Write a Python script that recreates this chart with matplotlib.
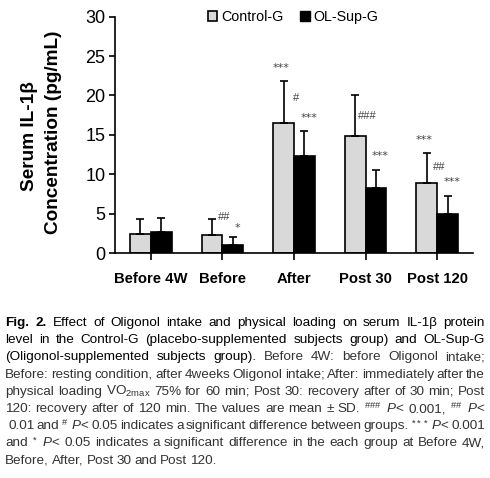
import matplotlib
matplotlib.use("Agg")
import matplotlib.pyplot as plt
import numpy as np
from matplotlib.patches import Patch

plt.rcParams['font.family'] = ['Liberation Sans', 'DejaVu Sans']
plt.rcParams['mathtext.fontset'] = 'custom'
plt.rcParams['mathtext.rm'] = 'Liberation Sans'
plt.rcParams['mathtext.it'] = 'Liberation Sans:italic'
plt.rcParams['mathtext.bf'] = 'Liberation Sans:bold'

# ---------------- data ----------------
categories = ["Before 4W", "Before", "After", "Post 30", "Post 120"]
control_mean = [2.35, 2.25, 16.45, 14.9, 8.85]
control_sd = [2.0, 2.05, 5.45, 5.15, 3.85]
olsup_mean = [2.65, 1.05, 12.3, 8.25, 5.0]
olsup_sd = [1.85, 1.0, 3.15, 2.35, 2.3]
control_stars = ["", "", "***", "", "***"]
olsup_stars = ["", "*", "***", "***", "***"]
between_marks = ["", "##", "#", "###", "##"]
between_y = [0, 4.6, 19.7, 17.4, 10.9]
yticks = [0, 5, 10, 15, 20, 25, 30]

caption_lines = [
    "**Fig. **2. Effect of Oligonol intake and physical loading on serum IL-1β protein",
    "level in the Control-G (placebo-supplemented subjects group) and OL-Sup-G",
    "(Oligonol-supplemented subjects group). Before 4W: before Oligonol intake;",
    "Before: resting condition, after 4weeks Oligonol intake; After: immediately after the",
    r"physical loading VO$_{2\mathrm{max}}$ 75% for 60 min; Post 30: recovery after of 30 min; Post",
    r"120: recovery after of 120 min. The values are mean ± SD. $^{\#\#\#}$ $P$< 0.001, $^{\#\#}$ $P$<",
    r"0.01 and $^{\#}$ $P$< 0.05 indicates a significant difference between groups. $^{***}$ $P$< 0.001",
    r"and $^{*}$ $P$< 0.05 indicates a significant difference in the each group at Before 4W,",
    "Before, After, Post 30 and Post 120.",
]
caption_title_words = 13 + 9 + 3  # words of the caption title (darker)

W, H = 490, 478
fig = plt.figure(figsize=(W / 100, H / 100), dpi=100)
ax = fig.add_axes([115 / W, 1 - 253 / H, (473 - 115) / W, (253 - 16.7) / H])

x = np.arange(len(categories))
bw = 0.29
ax.bar(x - bw / 2, control_mean, bw, color="#d9d9d9", edgecolor="black", linewidth=1.2, zorder=2)
ax.bar(x + bw / 2, olsup_mean, bw, color="black", edgecolor="black", linewidth=1.2, zorder=2)
ax.errorbar(x - bw / 2, control_mean, yerr=[np.zeros(len(x)), control_sd], fmt="none",
            ecolor="black", elinewidth=1.2, capsize=3, capthick=1.2, zorder=3)
ax.errorbar(x + bw / 2, olsup_mean, yerr=[np.zeros(len(x)), olsup_sd], fmt="none",
            ecolor="black", elinewidth=1.2, capsize=3, capthick=1.2, zorder=3)

star_kw = dict(ha="center", va="center", fontsize=8, color="#444444", family="DejaVu Sans")
for i in range(len(x)):
    if control_stars[i]:
        ax.text(x[i] - bw / 2 - 0.04, control_mean[i] + control_sd[i] + 1.6, control_stars[i], **star_kw)
    if olsup_stars[i]:
        off = 1.7 if len(olsup_stars[i]) > 1 else 1.1
        ax.text(x[i] + bw / 2 + 0.06, olsup_mean[i] + olsup_sd[i] + off, olsup_stars[i], **star_kw)
    if between_marks[i]:
        ax.text(x[i] + 0.03, between_y[i], between_marks[i], ha="center", va="center",
                fontsize=8, color="#444444")

ax.set_xlim(-0.5, 4.5)
ax.set_ylim(0, 30)
ax.set_yticks(yticks)
ax.set_xticks(x)
ax.set_xticklabels(categories, fontsize=10.7, fontweight="bold")
ax.tick_params(axis="y", labelsize=13, length=4, width=1.2, direction="out", pad=3)
ax.tick_params(axis="x", length=5, width=1.2, direction="out", pad=9)
for s in ["top", "right"]:
    ax.spines[s].set_visible(False)
for s in ["left", "bottom"]:
    ax.spines[s].set_linewidth(1.2)

handles = [Patch(facecolor="#d9d9d9", edgecolor="black", linewidth=1.2),
           Patch(facecolor="black", edgecolor="black")]
leg = fig.legend(handles, ["Control-G", "OL-Sup-G"], loc="center left",
                 bbox_to_anchor=(208 / W, 1 - 17 / H), ncol=2, frameon=False,
                 fontsize=10.3, handlelength=0.65, handleheight=0.65, handletextpad=0.25,
                 columnspacing=1.2, borderaxespad=0, borderpad=0)

fig.text(29 / W, 1 - 136 / H, "Serum IL-1β", rotation=90, ha="center", va="center",
         fontsize=13.7, fontweight="bold")
fig.text(53 / W, 1 - 132 / H, "Concentration (pg/mL)", rotation=90, ha="center", va="center",
         fontsize=13.7, fontweight="bold")

# ---------------- justified caption ----------------
fig.canvas.draw()
renderer = fig.canvas.get_renderer()
left_px, right_px = 5, 485
y0, dy = 326, 17.2
count = 0
for li, line in enumerate(caption_lines):
    words = line.split(" ")
    ypix = y0 + li * dy
    texts = []
    for w in words:
        bold = w.startswith("**")
        if bold:
            w = w[2:]
        title = count < caption_title_words
        t = fig.text(0, 1 - ypix / H, w, fontsize=9.7,
                     color="#000000" if title else "#333333",
                     fontweight="bold" if bold else "normal",
                     va="baseline", ha="left")
        texts.append(t)
        count += 1
    widths = [t.get_window_extent(renderer).width for t in texts]
    last = li == len(caption_lines) - 1
    xp = left_px + (3 if li == 6 else 0)
    if last or len(words) == 1:
        gap = 3.0
    else:
        gap = (right_px - xp - sum(widths)) / (len(words) - 1)
    for t, w in zip(texts, widths):
        t.set_x(xp / W)
        xp += w + gap

fig.savefig("out.png", dpi=100)
